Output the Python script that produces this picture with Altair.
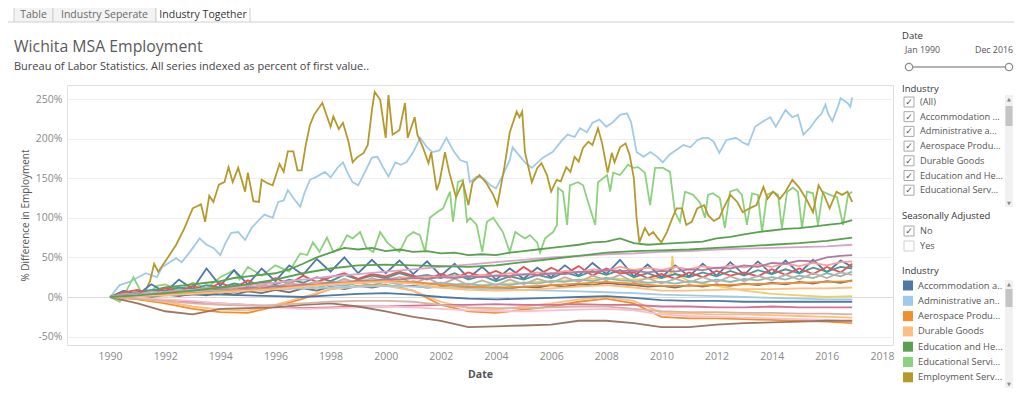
import altair as alt
import pandas as pd

FONT = "Open Sans"
OX, OY = 67, 85          # page position of the plot origin

# ---------------------------------------------------------------- data
industries = [
    "Accommodation and Food Services",
    "Administrative and Support and Waste Management",
    "Aerospace Product and Parts Manufacturing",
    "Durable Goods",
    "Education and Health Services",
    "Educational Services",
    "Employment Services",
    "Federal Government",
    "Financial Activities",
    "Goods Producing",
    "Government",
    "Health Care and Social Assistance",
    "Information",
    "Leisure and Hospitality",
    "Local Government",
    "Manufacturing",
    "Mining, Logging and Construction",
    "Other Services",
    "Professional and Business Services",
    "Retail Trade",
    "Service-Providing",
    "State Government",
    "Total Nonfarm",
    "Total Private",
    "Trade, Transportation, and Utilities",
]
palette = ["#4E79A7", "#A0CBE8", "#F28E2B", "#FFBE7D", "#59A14F", "#8CD17D", "#B6992D",
           "#F1CE63", "#499894", "#86BCB6", "#E15759", "#FF9D9A", "#79706E", "#BAB0AC",
           "#D37295", "#FABFD2", "#B07AA1", "#D4A6C8", "#9D7660", "#D7B5A6", "#4E79A7",
           "#A0CBE8", "#F28E2B", "#FFBE7D", "#59A14F"]
legend_short = ["Accommodation a..", "Administrative an..", "Aerospace Produ...", "Durable Goods",
                "Education and He...", "Educational Servi...", "Employment Serv..."]
check_items = ["(All)", "Accommodation ...", "Administrative a...", "Aerospace Produ...",
               "Durable Goods", "Education and He...", "Educational Serv..."]

semi_years = [y + h for y in range(1990, 2017) for h in (0.0, 0.5)] + [2016.92]
annual_years = list(range(1990, 2017)) + [2016.92]

employment = [
    (1990.0, 0), (1990.3, 3), (1990.6, -2), (1990.9, 5), (1991.2, 2), (1991.45, 20), (1991.6, 42),
    (1991.75, 32), (1992.1, 50), (1992.4, 66), (1992.7, 87), (1993.0, 112), (1993.3, 117),
    (1993.45, 95), (1993.6, 128), (1993.75, 120), (1993.95, 142), (1994.15, 145), (1994.3, 164),
    (1994.45, 145), (1994.65, 163), (1994.9, 133), (1995.0, 157), (1995.2, 121), (1995.4, 120),
    (1995.5, 148), (1995.7, 144), (1995.9, 141), (1996.15, 168), (1996.3, 158), (1996.45, 184),
    (1996.65, 184), (1996.8, 160), (1996.95, 160), (1997.1, 192), (1997.25, 217), (1997.4, 230),
    (1997.7, 245), (1998.0, 215), (1998.1, 228), (1998.3, 212), (1998.45, 220), (1998.65, 196),
    (1998.8, 170), (1998.95, 176), (1999.2, 182), (1999.35, 192), (1999.5, 236), (1999.6, 259),
    (1999.8, 249), (2000.0, 201), (2000.1, 255), (2000.25, 205), (2000.5, 211), (2000.7, 245),
    (2000.8, 201), (2001.05, 227), (2001.15, 205), (2001.35, 189), (2001.55, 169), (2001.65, 183),
    (2001.85, 135), (2001.95, 145), (2002.15, 183), (2002.3, 158), (2002.55, 126), (2002.8, 145),
    (2003.0, 116), (2003.15, 145), (2003.4, 154), (2003.65, 144), (2003.9, 129), (2004.05, 116),
    (2004.3, 163), (2004.5, 208), (2004.75, 234), (2004.85, 227), (2004.95, 234), (2005.05, 183),
    (2005.3, 145), (2005.5, 163), (2005.65, 169), (2005.85, 154), (2006.0, 133), (2006.2, 148),
    (2006.35, 146), (2006.55, 164), (2006.7, 158), (2006.85, 177), (2007.0, 171), (2007.15, 188),
    (2007.35, 196), (2007.5, 192), (2007.7, 213), (2007.85, 194), (2008.05, 157), (2008.2, 182),
    (2008.3, 170), (2008.5, 189), (2008.7, 194), (2008.85, 179), (2009.0, 150), (2009.1, 100),
    (2009.2, 69), (2009.4, 87), (2009.55, 78), (2009.7, 82), (2009.85, 75), (2010.0, 69),
    (2010.2, 82), (2010.4, 100), (2010.55, 112), (2010.75, 112), (2010.9, 91), (2011.1, 95),
    (2011.3, 112), (2011.55, 116), (2011.7, 103), (2011.9, 96), (2012.1, 100), (2012.25, 112),
    (2012.5, 129), (2012.75, 120), (2012.95, 107), (2013.2, 112), (2013.45, 116), (2013.7, 139),
    (2013.85, 124), (2014.05, 133), (2014.3, 124), (2014.5, 133), (2014.75, 148), (2015.0, 138),
    (2015.25, 124), (2015.5, 107), (2015.7, 141), (2015.9, 129), (2016.1, 112), (2016.35, 133),
    (2016.55, 129), (2016.75, 133), (2016.92, 120)]

administrative = [
    (1990.0, 0), (1990.35, 15), (1990.7, 19), (1991.3, 30), (1991.7, 25), (1991.9, 38), (1992.4, 49),
    (1992.6, 44), (1992.9, 57), (1993.25, 74), (1993.5, 66), (1993.75, 62), (1994.0, 53), (1994.2, 69),
    (1994.4, 81), (1994.65, 82), (1994.9, 72), (1995.15, 88), (1995.4, 97), (1995.6, 104),
    (1995.9, 100), (1996.1, 120), (1996.3, 122), (1996.45, 135), (1996.65, 125), (1996.9, 114),
    (1997.05, 131), (1997.25, 148), (1997.5, 152), (1997.8, 158), (1998.0, 151), (1998.25, 163),
    (1998.45, 170), (1998.6, 158), (1998.8, 145), (1999.0, 141), (1999.25, 158), (1999.5, 176),
    (1999.7, 177), (1999.9, 164), (2000.1, 152), (2000.35, 170), (2000.55, 167), (2000.75, 170),
    (2001.0, 183), (2001.25, 201), (2001.5, 189), (2001.7, 183), (2001.95, 185), (2002.2, 201),
    (2002.45, 185), (2002.7, 173), (2002.95, 170), (2003.05, 145), (2003.3, 152), (2003.55, 150),
    (2003.8, 141), (2004.0, 137), (2004.25, 154), (2004.5, 173), (2004.6, 189), (2005.05, 170),
    (2005.3, 163), (2005.7, 176), (2006.05, 183), (2006.4, 198), (2006.6, 205), (2006.85, 202),
    (2007.05, 213), (2007.3, 208), (2007.5, 220), (2007.75, 224), (2008.0, 215), (2008.25, 221),
    (2008.5, 230), (2008.75, 232), (2008.9, 221), (2009.1, 183), (2009.35, 177), (2009.6, 183),
    (2009.85, 177), (2010.05, 170), (2010.3, 180), (2010.55, 186), (2010.8, 192), (2011.05, 189),
    (2011.3, 198), (2011.5, 201), (2011.7, 201), (2011.9, 196), (2012.1, 182), (2012.35, 198),
    (2012.7, 201), (2012.95, 195), (2013.15, 192), (2013.4, 215), (2013.65, 221), (2013.95, 227),
    (2014.15, 215), (2014.5, 236), (2014.75, 227), (2014.95, 230), (2015.15, 205), (2015.4, 214),
    (2015.65, 226), (2015.8, 231), (2015.95, 243), (2016.05, 231), (2016.2, 222), (2016.4, 240),
    (2016.5, 251), (2016.75, 245), (2016.85, 240), (2016.92, 252)]

educational = [
    (1990.0, 0), (1990.35, -6), (1990.6, 8), (1990.85, 25), (1991.1, 8), (1991.4, 5), (1991.7, 14),
    (1992.0, 16), (1992.5, 9), (1993.0, 18), (1993.5, 11), (1994.0, 25), (1994.5, 34), (1994.7, 22),
    (1995.0, 38), (1995.5, 27), (1996.0, 40), (1996.5, 32), (1996.9, 55), (1997.15, 53),
    (1997.36, 69), (1997.6, 57), (1997.87, 75), (1998.1, 57), (1998.35, 62), (1998.6, 78),
    (1998.8, 74), (1999.07, 82), (1999.3, 62), (1999.55, 57), (1999.8, 82), (2000.05, 69),
    (2000.25, 63), (2000.5, 57), (2000.77, 76), (2001.0, 82), (2001.24, 78), (2001.43, 57),
    (2001.6, 100), (2001.86, 107), (2002.08, 112), (2002.33, 133), (2002.44, 95), (2002.62, 145),
    (2002.8, 148), (2002.95, 95), (2003.06, 100), (2003.3, 91), (2003.5, 57), (2003.67, 95),
    (2003.9, 100), (2004.15, 87), (2004.25, 82), (2004.5, 57), (2004.7, 82), (2004.87, 78),
    (2005.05, 74), (2005.23, 78), (2005.49, 69), (2005.6, 56), (2005.78, 74), (2006.07, 82),
    (2006.21, 91), (2006.25, 138), (2006.43, 133), (2006.58, 91), (2006.68, 141), (2006.97, 145),
    (2007.16, 141), (2007.34, 120), (2007.6, 91), (2007.7, 145), (2008.03, 154), (2008.14, 133),
    (2008.25, 157), (2008.5, 154), (2008.79, 167), (2008.97, 163), (2009.15, 164), (2009.4, 157),
    (2009.59, 116), (2009.77, 163), (2010.06, 163), (2010.31, 158), (2010.49, 107), (2010.67, 95),
    (2010.86, 133), (2011.15, 129), (2011.4, 119), (2011.58, 100), (2011.69, 129), (2011.87, 131),
    (2012.12, 125), (2012.3, 87), (2012.49, 133), (2012.74, 136), (2012.92, 129), (2013.1, 91),
    (2013.29, 131), (2013.5, 129), (2013.65, 82), (2013.83, 129), (2014.05, 133), (2014.23, 129),
    (2014.37, 87), (2014.56, 133), (2014.77, 138), (2014.95, 133), (2015.1, 87), (2015.28, 133),
    (2015.5, 131), (2015.68, 91), (2015.86, 133), (2016.12, 129), (2016.37, 126), (2016.59, 91),
    (2016.77, 129), (2016.92, 133)]

federal = [
    (1990, 0), (1991, 3), (1992, 5), (1993, 8), (1994, 10), (1995, 12), (1996, 14), (1997, 16),
    (1998, 18), (1999, 19), (2000, 20), (2001, 18), (2002, 16), (2003, 15), (2004, 16), (2005, 18),
    (2006, 20), (2007, 22), (2008, 24), (2009, 22), (2010, 24), (2010.35, 30), (2010.4, 52),
    (2010.45, 30), (2011, 20), (2012, 14), (2013, 8), (2014, 4), (2015, 2), (2016, 0), (2016.92, 1)]

# half-yearly readings (Jan, Jul of each year, last = Dec 2016)
accommodation = [0, 8, 3, 16, 6, 22, 10, 36, 14, 34, 16, 36, 20, 40, 28, 48, 32, 50, 30, 47,
                 30, 46, 29, 45, 27, 42, 24, 38, 22, 36, 23, 37, 25, 40, 27, 43, 29, 47, 26, 41,
                 25, 40, 26, 42, 27, 44, 28, 45, 29, 46, 30, 47, 31, 46, 38]
education_health = [0, 3, 6, 8, 12, 14, 16, 18, 20, 24, 26, 28, 30, 35, 42, 50, 56, 62, 60, 62,
                    58, 60, 57, 58, 55, 56, 53, 54, 53, 56, 58, 60, 62, 64, 66, 69, 70, 74, 68, 66,
                    67, 68, 69, 70, 74, 76, 79, 82, 84, 86, 87, 89, 91, 93, 97]
financial = [0, 4, 6, 9, 8, 12, 10, 15, 12, 17, 14, 19, 16, 22, 18, 25, 20, 28, 22, 27,
             24, 30, 25, 28, 24, 30, 22, 27, 20, 26, 22, 28, 24, 31, 26, 33, 28, 34, 25, 30,
             24, 29, 25, 31, 26, 33, 27, 34, 29, 35, 30, 37, 32, 38, 36]
goods = [0, 2, 4, 1, 5, 3, 7, 5, 9, 6, 10, 8, 12, 10, 14, 12, 16, 14, 18, 15,
         19, 16, 20, 17, 18, 16, 17, 14, 16, 15, 18, 17, 20, 19, 22, 20, 24, 21, 20, 18,
         19, 17, 20, 18, 22, 19, 23, 21, 25, 22, 27, 24, 30, 26, 32]
government = [0, 6, 9, 3, 11, 7, 14, 9, 18, 11, 21, 13, 24, 16, 27, 19, 25, 30, 23, 29,
              26, 32, 27, 22, 29, 24, 31, 26, 33, 25, 38, 27, 37, 29, 39, 27, 36, 30, 31, 24,
              29, 23, 31, 25, 33, 27, 31, 26, 35, 28, 36, 29, 38, 31, 42]
health = [0, 3, 5, 2, 6, 4, 8, 10, 10, 12, 12, 14, 14, 15, 16, 18, 18, 20, 20, 22,
          22, 25, 24, 26, 25, 27, 26, 28, 27, 30, 28, 31, 29, 33, 31, 35, 33, 38, 34, 37,
          34, 38, 35, 39, 36, 40, 37, 41, 38, 42, 39, 43, 40, 44, 45]
information = [0, -2, 2, 0, 3, 1, 4, 2, 6, 3, 7, 5, 9, 6, 11, 8, 13, 10, 14, 12,
               15, 13, 14, 12, 13, 11, 12, 10, 12, 11, 13, 12, 15, 13, 16, 15, 18, 16, 15, 13,
               14, 12, 15, 13, 16, 14, 17, 15, 18, 16, 19, 17, 20, 18, 21]
leisure = [0, 4, 3, 7, 5, 9, 7, 12, 9, 14, 10, 16, 12, 18, 14, 20, 16, 23, 17, 24,
           18, 25, 17, 24, 16, 23, 15, 21, 15, 22, 16, 23, 18, 25, 19, 27, 21, 28, 18, 24,
           17, 23, 18, 25, 19, 26, 20, 27, 21, 28, 22, 30, 24, 31, 28]
mining = [0, 2, 4, 3, 6, 5, 8, 7, 10, 9, 12, 11, 14, 13, 16, 15, 19, 17, 21, 20,
          23, 22, 24, 23, 25, 24, 26, 25, 27, 26, 29, 28, 30, 29, 32, 31, 34, 33, 33, 31,
          33, 32, 35, 34, 37, 36, 40, 38, 43, 42, 46, 45, 50, 52, 53]

# yearly readings (Jan of each year, last = Dec 2016)
aerospace = [0, -3, -8, -15, -19, -20, -12, -2, 10, 14, 15, 8, -10, -18, -20, -16, -12, -6, -2, -8,
             -25, -27, -27, -28, -29, -30, -31, -33]
durable = [0, -2, -6, -12, -16, -17, -10, 0, 10, 13, 14, 8, -6, -14, -16, -12, -8, -3, 0, -5,
           -20, -21, -22, -22, -23, -24, -25, -26]
local_gov = [0, -2, -4, -6, -8, -10, -12, -14, -13, -12, -12, -11, -10, -10, -9, -10, -10, -9, -10,
             -10, -12, -12, -13, -13, -12, -13, -13, -13]
manufacturing = [0, -1, -3, -5, -8, -10, -13, -15, -14, -13, -12, -13, -15, -17, -18, -18, -17, -16,
                 -15, -17, -22, -24, -25, -26, -27, -28, -29, -31]
other_services = [0, 3, 6, 9, 12, 15, 18, 22, 26, 29, 32, 35, 38, 41, 44, 47, 50, 52, 54, 55, 57,
                  58, 60, 61, 62, 63, 64, 66]
professional = [0, -8, -18, -22, -15, -14, -13, -10, -8, -12, -18, -25, -30, -38, -37, -36, -35, -30,
                -30, -33, -38, -38, -35, -33, -32, -31, -30, -30]
retail = [0, -2, -5, -8, -10, -11, -10, -8, -6, -5, -5, -6, -10, -13, -14, -14, -13, -12, -12, -15,
          -18, -19, -19, -20, -20, -21, -21, -22]
service = [0, 1, 2, 3, 3, 2, 1, 0, 2, 4, 5, 3, 0, -2, -3, -2, -1, 0, 1, -1, -4, -5, -5, -6, -6, -6,
           -6, -6]
state_gov = [0, 2, 4, 6, 8, 9, 10, 11, 12, 13, 14, 13, 12, 11, 10, 9, 8, 7, 6, 5, 3, 2, 1, 0, -1,
             -2, -3, -3]
total_nonfarm = [0, 1, 3, 5, 7, 9, 11, 14, 17, 19, 20, 19, 15, 13, 12, 13, 15, 17, 19, 17, 14, 14,
                 15, 16, 17, 18, 19, 20]
total_private = [0, 1, 2, 4, 6, 8, 10, 13, 16, 18, 19, 17, 12, 9, 8, 9, 11, 13, 15, 12, 8, 8, 9, 10,
                 10, 11, 11, 12]
trade = [0, 2, 5, 8, 12, 16, 22, 30, 36, 40, 41, 40, 39, 38, 40, 44, 48, 52, 56, 58, 59, 60, 62, 64,
         66, 68, 71, 75]

pairs = {
    industries[1]: administrative, industries[5]: educational,
    industries[6]: employment, industries[7]: federal,
}
semi = {
    industries[0]: accommodation, industries[4]: education_health, industries[8]: financial,
    industries[9]: goods, industries[10]: government, industries[11]: health,
    industries[12]: information, industries[13]: leisure, industries[16]: mining,
}
annual = {
    industries[2]: aerospace, industries[3]: durable, industries[14]: local_gov,
    industries[15]: manufacturing, industries[17]: other_services, industries[18]: professional,
    industries[19]: retail, industries[20]: service, industries[21]: state_gov,
    industries[22]: total_nonfarm, industries[23]: total_private, industries[24]: trade,
}

rows = []
for name, pts in pairs.items():
    rows += [{"industry": name, "year": x, "value": v} for x, v in pts]
for name, vals in semi.items():
    assert len(vals) == len(semi_years), name
    rows += [{"industry": name, "year": x, "value": v} for x, v in zip(semi_years, vals)]
for name, vals in annual.items():
    assert len(vals) == len(annual_years), name
    rows += [{"industry": name, "year": x, "value": v} for x, v in zip(annual_years, vals)]
df = pd.DataFrame(rows)

# ---------------------------------------------------------------- main chart
lines = alt.Chart(df).mark_line(strokeWidth=1.8).encode(
    x=alt.X("year:Q",
            scale=alt.Scale(domain=[1988.44, 2018.40], nice=False, zero=False),
            axis=alt.Axis(values=list(range(1990, 2019, 2)), format="d", title="Date",
                          grid=False, ticks=False, domain=False,
                          labelFont=FONT, labelFontSize=10.5, labelColor="#8a8a8a", labelPadding=6,
                          titleFont=FONT, titleFontSize=10.5, titleFontWeight="bold",
                          titleColor="#555555", titlePadding=8)),
    y=alt.Y("value:Q",
            scale=alt.Scale(domain=[-60.6, 267.7], nice=False, zero=False),
            axis=alt.Axis(values=[-50, 0, 50, 100, 150, 200, 250], labelExpr="datum.value + '%'",
                          title="% Difference in Employment", grid=True,
                          gridColor={"condition": {"test": "datum.value === 0", "value": "#d9d9d9"},
                                     "value": "#eeeeee"},
                          ticks=False, domain=True, domainColor="#e4e4e4",
                          labelFont=FONT, labelFontSize=10.5, labelColor="#8a8a8a", labelPadding=5,
                          titleFont=FONT, titleFontSize=10, titleFontWeight="normal",
                          titleColor="#555555", titlePadding=5)),
    color=alt.Color("industry:N", scale=alt.Scale(domain=industries, range=palette), legend=None),
)

# ---------------------------------------------------------------- dashboard decoration
dummy = pd.DataFrame({"k": [0]})


def txt(s, px, py, size=10.5, color="#555555", align="left", weight="normal", font=FONT):
    return alt.Chart(dummy).mark_text(text=s, align=align, baseline="middle", fontSize=size,
                                      color=color, fontWeight=weight, font=font).encode(
        x=alt.value(px - OX), y=alt.value(py - OY))


def box(x1, y1, x2, y2, fill, stroke=None, sw=1):
    kw = {"fill": fill}
    if stroke:
        kw.update(stroke=stroke, strokeWidth=sw)
    return alt.Chart(dummy).mark_rect(**kw).encode(
        x=alt.value(x1 - OX), x2=alt.value(x2 - OX), y=alt.value(y1 - OY), y2=alt.value(y2 - OY))


def hline(x1, x2, py, color, w=1):
    return alt.Chart(dummy).mark_rule(color=color, strokeWidth=w).encode(
        x=alt.value(x1 - OX), x2=alt.value(x2 - OX), y=alt.value(py - OY))


def dot(px, py):
    return alt.Chart(dummy).mark_point(shape="circle", filled=True, fill="white", stroke="#8c8c8c",
                                       strokeWidth=1.2, size=55, opacity=1).encode(
        x=alt.value(px - OX), y=alt.value(py - OY))


def checkbox(px, py, checked=True):
    parts = [box(px, py - 5, px + 10, py + 5, "white", "#a8a8a8" if checked else "#d0d0d0")]
    if checked:
        parts.append(txt("\u2713", px + 5, py, size=9, color="#555555", align="center",
                         font="DejaVu Sans"))
    return parts


def scrollbar(y1, y2, t1, t2):
    return [box(1005, y1, 1013, y2, "#f1f1f1"), box(1005.5, t1, 1012.5, t2, "#c4c4c4"),
            txt("\u25b2", 1009, y1 + 4, size=5, color="#888888", align="center", font="DejaVu Sans"),
            txt("\u25bc", 1009, y2 - 4, size=5, color="#888888", align="center", font="DejaVu Sans")]


decor = []
# tabs
decor += [box(14, 6, 53, 22, "#f3f3f3", "#cfcfcf"), box(53, 6, 156, 22, "#f3f3f3", "#cfcfcf"),
          box(156, 6, 250, 22, "white", "#cfcfcf"),
          hline(8, 14, 22, "#cfcfcf"), hline(250, 1016, 22, "#cfcfcf"),
          txt("Table", 33.5, 14.5, 10.5, "#6a6a6a", "center"),
          txt("Industry Seperate", 104.5, 14.5, 10.5, "#6a6a6a", "center"),
          txt("Industry Together", 203, 14.5, 10.5, "#333333", "center")]
# titles
decor += [txt("Wichita MSA Employment", 14, 47, 15.8, "#5a5a5a"),
          txt("Bureau of Labor Statistics. All series indexed as percent of first value..", 14, 67,
              11, "#444444")]
# date filter
decor += [txt("Date", 902, 36, 9.5, "#333333"),
          txt("Jan 1990", 905, 50, 8.8, "#555555"), txt("Dec 2016", 1013, 50, 8.8, "#555555", "right"),
          hline(908, 1010, 67, "#9a9a9a", 1.5), dot(909, 67), dot(1009, 67)]
# industry checkbox list
decor += [txt("Industry", 902, 89, 9.5, "#333333")]
for i, s in enumerate(check_items):
    yy = 102 + i * 14.7
    decor += checkbox(904, yy)
    decor.append(txt(s, 920, yy, 9.2, "#555555"))
decor += scrollbar(95, 207, 106, 126)
# seasonally adjusted
decor += [txt("Seasonally Adjusted", 902, 216, 9.5, "#333333")]
decor += checkbox(904, 231) + [txt("No", 920, 231, 9.2, "#555555")]
decor += checkbox(904, 246, False) + [txt("Yes", 920, 246, 9.2, "#555555")]
# colour legend (first seven industries, scrolled list)
decor += [txt("Industry", 902, 271, 9.5, "#333333")]
for i, s in enumerate(legend_short):
    yy = 285.5 + i * 15.3
    decor.append(box(903, yy - 5, 913, yy + 5, palette[i]))
    decor.append(txt(s, 918, yy, 9.4, "#555555"))
decor += scrollbar(280, 388, 289, 307)

chart = alt.layer(lines, *decor).properties(
    width=826, height=260, autosize="none",
    padding={"left": OX - 8, "top": OY - 8, "right": 121, "bottom": 48},
).configure_view(stroke=None).configure(background="white")

chart.save("out.html", embed_options={"renderer": "svg", "actions": False})
